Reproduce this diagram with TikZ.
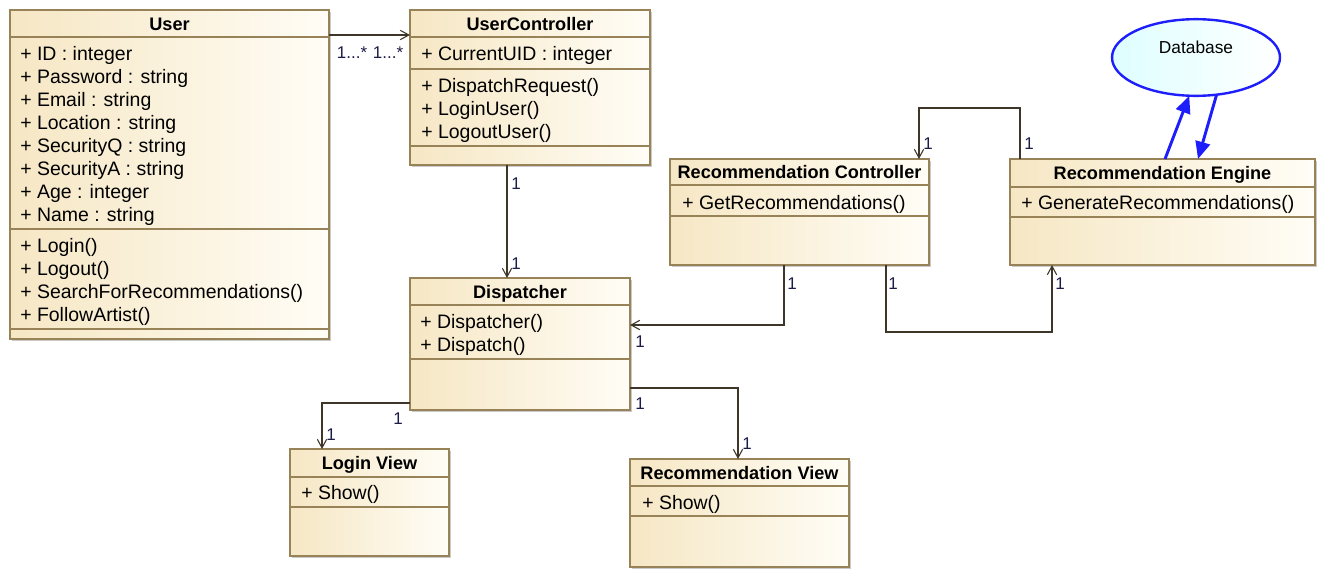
\documentclass[tikz,border=0pt]{standalone}
\usepackage{fontspec}
\setmainfont{Liberation Sans}
\usetikzlibrary{arrows.meta,fit,shapes.geometric,shadows}

\definecolor{classleft}{RGB}{246,231,196}
\definecolor{classright}{RGB}{255,253,246}
\definecolor{classline}{RGB}{152,130,88}
\definecolor{assocline}{RGB}{62,54,40}
\definecolor{multtext}{RGB}{28,28,72}
\definecolor{dbblue}{RGB}{30,30,250}
\definecolor{dbfill}{RGB}{222,254,255}

\begin{document}
\begin{tikzpicture}[x=0.75pt,y=-0.75pt,
	classbox/.style={draw=classline,line width=0.8pt,left color=classleft,right color=classright,
		inner sep=0pt,outer sep=0pt,
		drop shadow={shadow xshift=1.3pt,shadow yshift=-1.3pt,fill=black!35,opacity=0.6}},
	classname/.style={inner sep=0pt,font=\fontsize{13.6}{16}\selectfont\bfseries,text height=9.8pt,text depth=0pt},
	members/.style={anchor=north west,inner sep=0pt,align=left,font=\fontsize{14.6}{17.25}\selectfont},
	sepline/.style={draw=classline,line width=0.8pt},
	assoc/.style={draw=assocline,line width=0.8pt,-{Straight Barb[length=6.5pt,width=7pt]}},
	mult/.style={inner sep=0pt,text=multtext,font=\fontsize{12.75}{15}\selectfont,text height=9.1pt,text depth=0pt},
	database/.style={ellipse,draw=dbblue,line width=1.8pt,left color=dbfill,right color=white,
		minimum width=126pt,minimum height=57.5pt,inner sep=0pt,outer sep=0pt},
	dbname/.style={inner sep=0pt,font=\fontsize{13}{15}\selectfont,text height=9.3pt,text depth=0pt},
	dbflow/.style={draw=dbblue,line width=2.2pt,-{Triangle[length=13pt,width=11pt]}},
	]
\useasboundingbox (0,0) rectangle (1327,579);

% User
\node[classbox,fit={(10,10) (329,339)}] (user) {};
\node[classname] (user-name) at (user.north |- 0,23.5) {User};
\draw[sepline] (user.west |- 0,37) -- (user.east |- 0,37);
\node[members] (user-attr) at (20,44) {\strut+ ID : integer\\+ Password : string\\+ Email : string\\+ Location : string\\+ SecurityQ : string\\+ SecurityA : string\\+ Age : integer\\+ Name : string};
\draw[sepline] (user.west |- 0,229) -- (user.east |- 0,229);
\node[members] (user-ops) at (20,236) {\strut+ Login()\\+ Logout()\\+ SearchForRecommendations()\\+ FollowArtist()};
\draw[sepline] (user.west |- 0,329) -- (user.east |- 0,329);

% UserController
\node[classbox,fit={(410,10) (650,165)}] (uc) {};
\node[classname] (uc-name) at (uc.north |- 0,23.5) {UserController};
\draw[sepline] (uc.west |- 0,37) -- (uc.east |- 0,37);
\node[members] (uc-attr) at (421,44) {\strut+ CurrentUID : integer};
\draw[sepline] (uc.west |- 0,69) -- (uc.east |- 0,69);
\node[members] (uc-ops) at (421,76) {\strut+ DispatchRequest()\\+ LoginUser()\\+ LogoutUser()};
\draw[sepline] (uc.west |- 0,146) -- (uc.east |- 0,146);

% Dispatcher
\node[classbox,fit={(410,278) (630,410)}] (disp) {};
\node[classname] (disp-name) at (disp.north |- 0,291.5) {Dispatcher};
\draw[sepline] (disp.west |- 0,305) -- (disp.east |- 0,305);
\node[members] (disp-ops) at (420,312) {\strut+ Dispatcher()\\+ Dispatch()};
\draw[sepline] (disp.west |- 0,359) -- (disp.east |- 0,359);

% Recommendation Controller
\node[classbox,fit={(670,159) (929,265)}] (rc) {};
\node[classname] (rc-name) at (rc.north |- 0,172) {Recommendation Controller};
\draw[sepline] (rc.west |- 0,185) -- (rc.east |- 0,185);
\node[members] (rc-ops) at (682,193) {\strut+ GetRecommendations()};
\draw[sepline] (rc.west |- 0,216) -- (rc.east |- 0,216);

% Recommendation Engine
\node[classbox,fit={(1010,159) (1315,265)}] (re) {};
\node[classname] (re-name) at (re.north |- 0,173) {Recommendation Engine};
\draw[sepline] (re.west |- 0,187) -- (re.east |- 0,187);
\node[members] (re-ops) at (1021,193) {\strut+ GenerateRecommendations()};
\draw[sepline] (re.west |- 0,217) -- (re.east |- 0,217);

% Login View
\node[classbox,fit={(290,449) (449,556)}] (lv) {};
\node[classname] (lv-name) at (lv.north |- 0,463) {Login View};
\draw[sepline] (lv.west |- 0,477) -- (lv.east |- 0,477);
\node[members] (lv-ops) at (301,483) {\strut+ Show()};
\draw[sepline] (lv.west |- 0,507) -- (lv.east |- 0,507);

% Recommendation View
\node[classbox,fit={(630,459) (849,567)}] (rv) {};
\node[classname] (rv-name) at (rv.north |- 0,472.5) {Recommendation View};
\draw[sepline] (rv.west |- 0,486) -- (rv.east |- 0,486);
\node[members] (rv-ops) at (642,493) {\strut+ Show()};
\draw[sepline] (rv.west |- 0,516) -- (rv.east |- 0,516);

% Database
\node[database] (db) at (1196,57.5) {};
\node[dbname] (db-name) at (1196,47) {Database};

% associations
\draw[assoc] (user.east |- 0,35) -- (uc.west |- 0,35);
\node[mult] (m-user) at (352,52) {1...*};
\node[mult] (m-uc) at (388,52) {1...*};

\draw[assoc] (uc.south -| 507,0) -- (disp.north -| 507,0);
\node[mult] (m-uc-disp) at (516,183) {1};
\node[mult] (m-disp-uc) at (516,263) {1};

\draw[assoc] (re.north -| 1020,0) -- ++(0,-51) -| (rc.north -| 919,0);
\node[mult] (m-re-rc) at (1029,143) {1};
\node[mult] (m-rc-re) at (928,143) {1};

\draw[assoc] (rc.south -| 784,0) |- (disp.east |- 0,325);
\node[mult] (m-rc-disp) at (792,283) {1};
\node[mult] (m-disp-rc) at (640,341) {1};

\draw[assoc] (rc.south -| 886,0) -- ++(0,67) -| (re.south -| 1052,0);
\node[mult] (m-rc-re2) at (893,283) {1};
\node[mult] (m-re-rc2) at (1060,283) {1};

\draw[assoc] (disp.west |- 0,403) -| (lv.north -| 322,0);
\node[mult] (m-disp-lv) at (398,418) {1};
\node[mult] (m-lv-disp) at (331,434) {1};

\draw[assoc] (disp.east |- 0,388) -| (rv.north -| 738,0);
\node[mult] (m-disp-rv) at (640,403) {1};
\node[mult] (m-rv-disp) at (747,443) {1};

% database flows
\draw[dbflow] (re.north -| 1165,0) -- (db.260);
\draw[dbflow] (db.299) -- (re.north -| 1198,0);
\end{tikzpicture}
\end{document}
